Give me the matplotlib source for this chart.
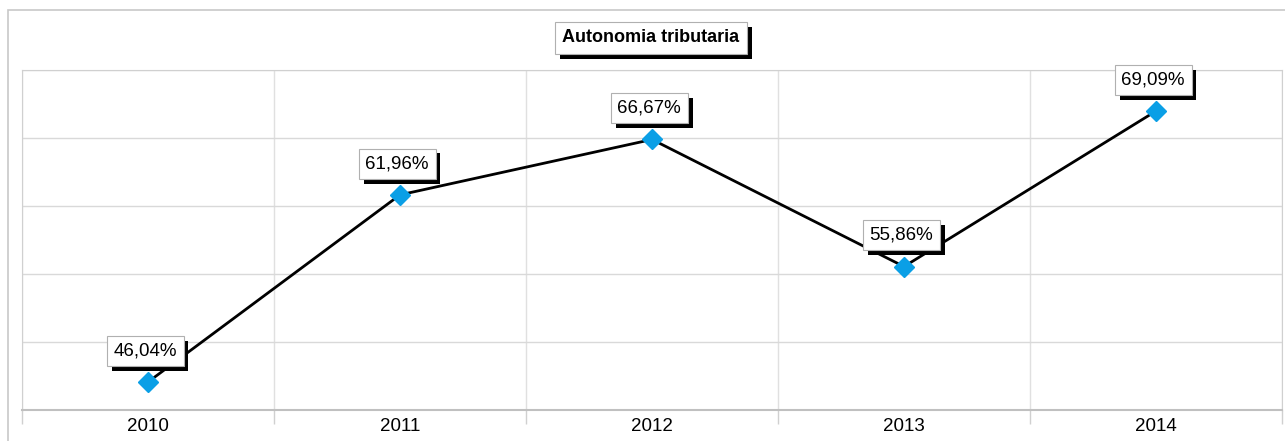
import matplotlib.pyplot as plt
import matplotlib.patheffects as pe
from matplotlib.patches import Rectangle

years = ['2010', '2011', '2012', '2013', '2014']
values = [46.04, 61.96, 66.67, 55.86, 69.09]
labels = ['46,04%', '61,96%', '66,67%', '55,86%', '69,09%']

plt.rcParams['font.family'] = ['Liberation Sans', 'DejaVu Sans']

W, H = 1285, 441
fig = plt.figure(figsize=(W / 100, H / 100), dpi=100)

# outer chart frame
fig.patches.append(Rectangle((8 / W, -0.1), 1.1, 1 - 10 / H + 0.1,
                             transform=fig.transFigure, fill=False,
                             edgecolor='#c8c8c8', linewidth=1.2))

ax = fig.add_axes([22 / W, 31 / H, 1260 / W, 340 / H])

x = list(range(len(years)))
ax.plot(x, values, color='black', linewidth=2, zorder=3)
ax.plot(x, values, linestyle='none', marker='D', markersize=10,
        color='#0a9fe6', zorder=4)

ax.set_xlim(-0.5, len(years) - 0.5)
ax.set_ylim(43.66, 72.58)
ymin, ymax = ax.get_ylim()
step = (ymax - ymin) / 5
ax.set_yticks([ymin + i * step for i in range(6)])
ax.set_yticklabels([])
ax.tick_params(axis='y', length=0)

ax.set_xticks(x)
ax.set_xticklabels(years, fontsize=13.5)
ax.set_xticks([i - 0.5 for i in range(len(years) + 1)], minor=True)
ax.tick_params(axis='x', which='major', length=0, pad=6)
ax.tick_params(axis='x', which='minor', length=10, color='#d0d0d0', width=1)

ax.grid(True, axis='y', color='#d9d9d9', linewidth=1)
ax.grid(True, axis='x', which='minor', color='#e0e0e0', linewidth=1)
ax.grid(False, axis='x', which='major')
ax.set_axisbelow(True)

for side in ['left', 'right', 'top']:
    ax.spines[side].set_color('#d0d0d0')
ax.spines['bottom'].set_color('#c0c0c0')
ax.spines['bottom'].set_linewidth(1.5)

shadow = [pe.SimplePatchShadow(offset=(3.5, -3.5), shadow_rgbFace='black', alpha=1),
          pe.Normal()]

for xi, v, lab in zip(x, values, labels):
    t = ax.annotate(lab, (xi, v), xytext=(-2, 22.5), textcoords='offset points',
                    ha='center', va='center', fontsize=13.5, zorder=6,
                    bbox=dict(boxstyle='square,pad=0.35', facecolor='white',
                              edgecolor='#b0b0b0', linewidth=0.8))
    t.get_bbox_patch().set_path_effects(shadow)

title = fig.text(651 / W, 1 - 38 / H, 'Autonomia tributaria', ha='center', va='center',
                 fontsize=13, fontweight='bold',
                 bbox=dict(boxstyle='square,pad=0.4', facecolor='white',
                           edgecolor='#b0b0b0', linewidth=0.8))
title.get_bbox_patch().set_path_effects(shadow)

fig.savefig('out.png', dpi=100)
